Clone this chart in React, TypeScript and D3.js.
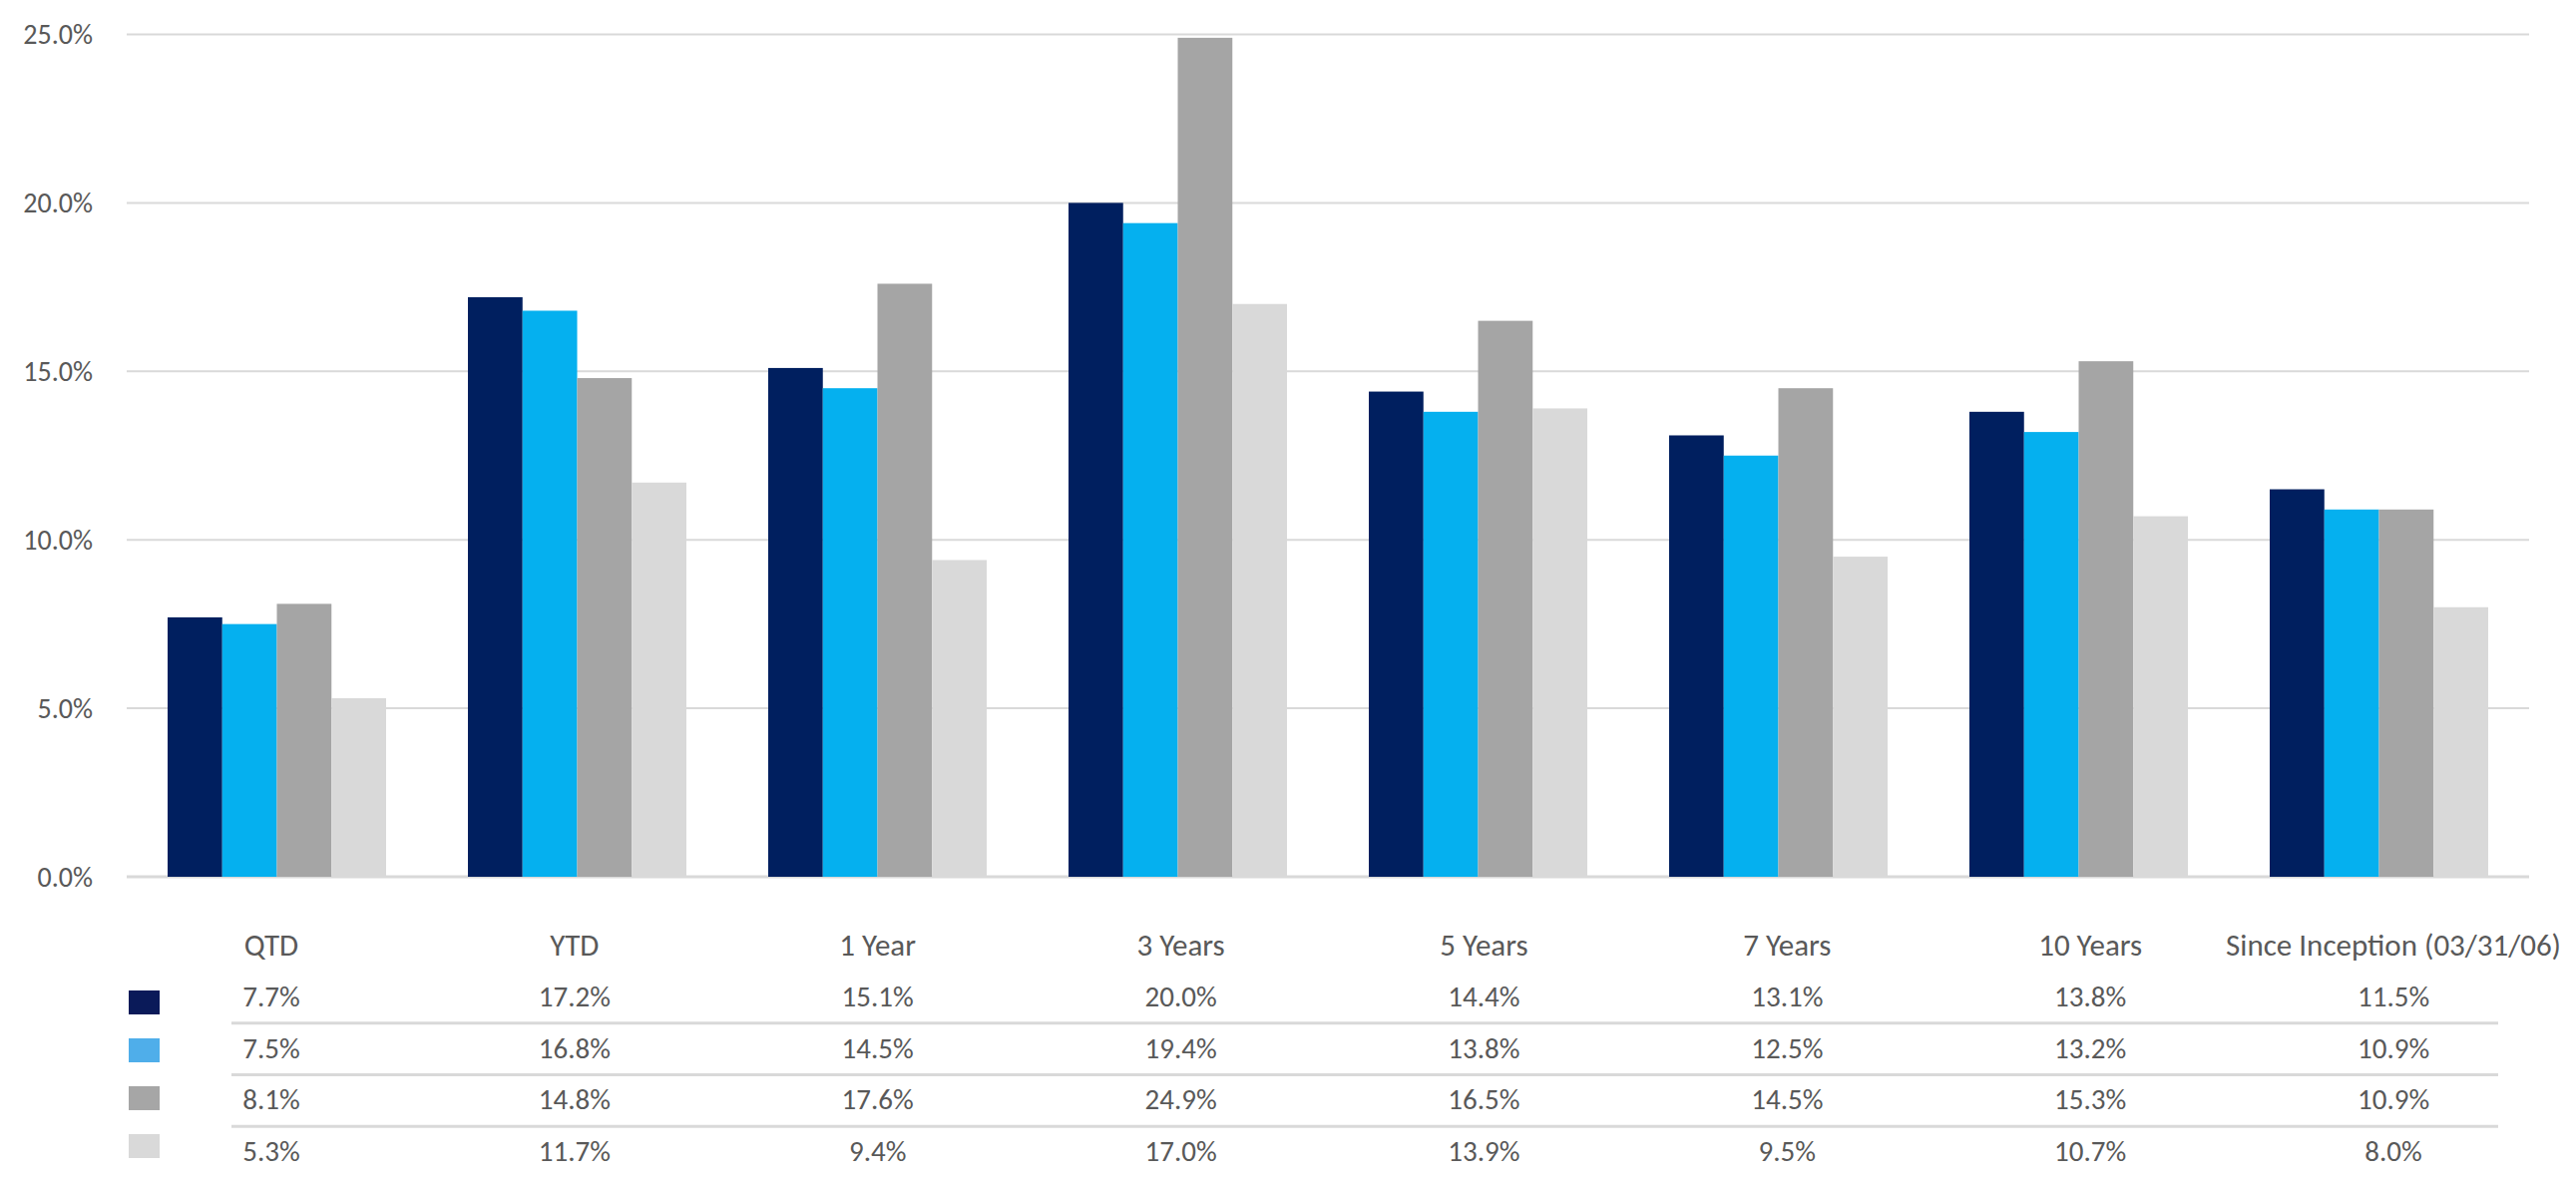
import * as d3 from 'd3';
import { type FC } from 'react';

const categories = [
  'QTD',
  'YTD',
  '1 Year',
  '3 Years',
  '5 Years',
  '7 Years',
  '10 Years',
  'Since Inception (03/31/06)',
];

const seriesA = [7.7, 17.2, 15.1, 20.0, 14.4, 13.1, 13.8, 11.5];
const seriesB = [7.5, 16.8, 14.5, 19.4, 13.8, 12.5, 13.2, 10.9];
const seriesC = [8.1, 14.8, 17.6, 24.9, 16.5, 14.5, 15.3, 10.9];
const seriesD = [5.3, 11.7, 9.4, 17.0, 13.9, 9.5, 10.7, 8.0];

const yTicks = [0, 5, 10, 15, 20, 25];

const series = [seriesA, seriesB, seriesC, seriesD];
const barColors = ['#001F5F', '#05B0EF', '#A5A5A5', '#D9D9D9'];
const legendColors = ['#0A1A59', '#4FAEEA', '#A6A6A6', '#D9D9D9'];

const W = 2582;
const H = 1184;
const FONT = 'Carlito, Calibri, Lato, sans-serif';
const TEXT = '#595959';
const GRID = '#D9D9D9';

const App: FC = () => {
  const y = d3.scaleLinear().domain([0, 25]).range([879, 34.5]);

  const x0 = d3
    .scaleBand<string>()
    .domain(categories)
    .range([127, 2535])
    .paddingInner(0.2724)
    .paddingOuter(0.1362);

  const x1 = d3
    .scaleBand<number>()
    .domain(series.map((_, i) => i))
    .range([0, x0.bandwidth()]);

  // data table under the chart
  const tableX = d3.scaleBand<string>().domain(categories).range([120, 2551]);
  const rowY = d3
    .scalePoint<number>()
    .domain(series.map((_, i) => i))
    .range([999, 1154]);
  const swatchY = d3
    .scalePoint<number>()
    .domain(series.map((_, i) => i))
    .range([1005, 1149]);
  const fmt = (v: number) => `${v.toFixed(1)}%`;

  return (
    <svg
      width={W}
      height={H}
      style={{ position: 'absolute', left: 0, top: 0, background: '#fff' }}
      fontFamily={FONT}
    >
      {/* gridlines + y labels */}
      {yTicks.map((t) => (
        <g key={t}>
          <line
            x1={127}
            x2={2535}
            y1={y(t)}
            y2={y(t)}
            stroke={GRID}
            strokeWidth={t === 0 ? 3 : 2}
          />
          <text
            x={93}
            y={y(t)}
            dy="0.35em"
            textAnchor="end"
            fontSize={28}
            fill={TEXT}
          >
            {fmt(t)}
          </text>
        </g>
      ))}

      {/* bars */}
      {categories.map((c, ci) => (
        <g key={c} transform={`translate(${x0(c)},0)`}>
          {series.map((s, si) => (
            <rect
              key={si}
              x={x1(si)}
              y={y(s[ci])}
              width={x1.bandwidth()}
              height={y(0) - y(s[ci])}
              fill={barColors[si]}
            />
          ))}
        </g>
      ))}

      {/* category header row */}
      {categories.map((c) => (
        <text
          key={c}
          x={(tableX(c) || 0) + tableX.bandwidth() / 2}
          y={947}
          dy="0.35em"
          textAnchor="middle"
          fontSize={31}
          fill={TEXT}
        >
          {c}
        </text>
      ))}

      {/* row separators */}
      {series.slice(1).map((_, i) => (
        <line
          key={i}
          x1={232}
          x2={2504}
          y1={((rowY(i) || 0) + (rowY(i + 1) || 0)) / 2 + 1}
          y2={((rowY(i) || 0) + (rowY(i + 1) || 0)) / 2 + 1}
          stroke={GRID}
          strokeWidth={3}
        />
      ))}

      {/* legend swatches */}
      {series.map((_, si) => (
        <rect
          key={si}
          x={129}
          y={(swatchY(si) || 0) - 12}
          width={31}
          height={24}
          fill={legendColors[si]}
        />
      ))}

      {/* values */}
      {series.map((s, si) =>
        s.map((v, ci) => (
          <text
            key={`${si}-${ci}`}
            x={(tableX(categories[ci]) || 0) + tableX.bandwidth() / 2}
            y={rowY(si)}
            dy="0.35em"
            textAnchor="middle"
            fontSize={29}
            fill={TEXT}
          >
            {fmt(v)}
          </text>
        )),
      )}
    </svg>
  );
};

export default App;
